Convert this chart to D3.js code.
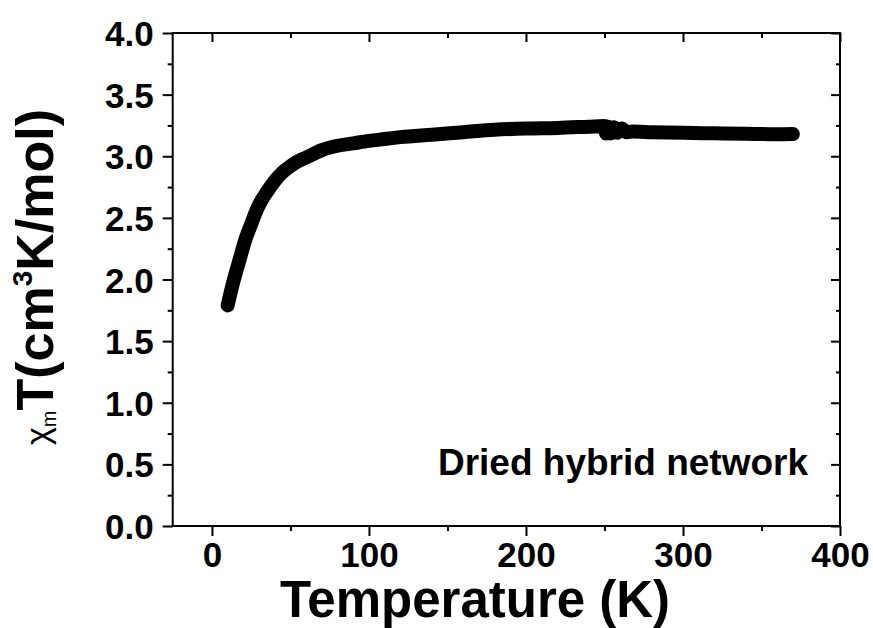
<!DOCTYPE html>
<html><head><meta charset="utf-8">
<script src="https://cdn.jsdelivr.net/npm/d3@7"></script>
<style>body{margin:0;background:#fff}svg{display:block}text{font-family:"Liberation Sans",Arial,sans-serif;fill:#000}</style>
</head><body>
<svg id="c" width="873" height="628"></svg>
<script>
const temperature = [10, 12, 14, 16, 18, 20, 22, 25, 28, 31, 35, 40, 45, 50, 55, 60, 70, 80, 90, 100, 110, 120, 140, 160, 180, 200, 220, 240, 250, 251, 252, 254, 256, 258, 261, 264, 268, 280, 300, 320, 340, 360, 370];
const chiT = [1.79, 1.90, 2.00, 2.09, 2.18, 2.27, 2.35, 2.45, 2.55, 2.63, 2.71, 2.80, 2.87, 2.92, 2.96, 2.99, 3.05, 3.085, 3.105, 3.125, 3.14, 3.155, 3.175, 3.195, 3.215, 3.225, 3.23, 3.24, 3.245, 3.185, 3.24, 3.185, 3.235, 3.19, 3.225, 3.195, 3.2, 3.195, 3.19, 3.186, 3.183, 3.178, 3.18];
const xTicks = [0, 100, 200, 300, 400];
const xMinor = [50, 150, 250, 350];
const yTicks = [0.0, 0.5, 1.0, 1.5, 2.0, 2.5, 3.0, 3.5, 4.0];
const yMinor = [0.25, 0.75, 1.25, 1.75, 2.25, 2.75, 3.25, 3.75];
const xLabel = "Temperature (K)";
const annotation = "Dried hybrid network";

const L = 172.7, R = 840, T = 33, B = 526;
const svg = d3.select("#c");
const x = d3.scaleLinear().domain([-25, 400]).range([L, R]);
const y = d3.scaleLinear().domain([0, 4]).range([B, T]);

// data band
const pts = temperature.map((t, i) => [t, chiT[i]]);
svg.append("path")
  .attr("d", d3.line().x(d => x(d[0])).y(d => y(d[1])).curve(d3.curveMonotoneX)(pts))
  .attr("fill", "none").attr("stroke", "#000").attr("stroke-width", 14)
  .attr("stroke-linecap", "round").attr("stroke-linejoin", "round");

function styleAxis(g) {
  g.select(".domain").remove();
  g.selectAll("line").attr("stroke", "#000").attr("stroke-width", 2);
}
// bottom
const gB = svg.append("g").attr("transform", `translate(0,${B})`)
  .call(d3.axisBottom(x).tickValues(xTicks).tickSize(10).tickPadding(6).tickFormat(d3.format("d")));
styleAxis(gB);
gB.selectAll("text").attr("font-size", 35).attr("font-weight", "bold").attr("dy", "0.71em");
svg.append("g").attr("transform", `translate(0,${B})`)
  .call(d3.axisBottom(x).tickValues(xMinor).tickSize(5).tickFormat("")).call(styleAxis);
// top
svg.append("g").attr("transform", `translate(0,${T})`)
  .call(d3.axisBottom(x).tickValues(xTicks).tickSize(9).tickFormat("")).call(styleAxis);
svg.append("g").attr("transform", `translate(0,${T})`)
  .call(d3.axisBottom(x).tickValues(xMinor).tickSize(5).tickFormat("")).call(styleAxis);
// left
const gL = svg.append("g").attr("transform", `translate(${L},0)`)
  .call(d3.axisLeft(y).tickValues(yTicks).tickSize(10).tickPadding(9).tickFormat(d3.format(".1f")));
styleAxis(gL);
gL.selectAll("text").attr("font-size", 35).attr("font-weight", "bold").attr("dy", "0.36em");
svg.append("g").attr("transform", `translate(${L},0)`)
  .call(d3.axisLeft(y).tickValues(yMinor).tickSize(5).tickFormat("")).call(styleAxis);
// right
svg.append("g").attr("transform", `translate(${R},0)`)
  .call(d3.axisLeft(y).tickValues(yTicks).tickSize(9).tickFormat("")).call(styleAxis);
svg.append("g").attr("transform", `translate(${R},0)`)
  .call(d3.axisLeft(y).tickValues(yMinor).tickSize(4).tickFormat("")).call(styleAxis);

// frame
svg.append("rect").attr("x", L).attr("y", T).attr("width", R - L).attr("height", B - T)
  .attr("fill", "none").attr("stroke", "#000").attr("stroke-width", 2);

// x label
svg.append("text").attr("x", 475).attr("y", 617).attr("text-anchor", "middle")
  .attr("font-size", 51).attr("font-weight", "bold").text(xLabel);

// y label
const yl = svg.append("text").attr("transform", "translate(53,277) rotate(-90)")
  .attr("text-anchor", "middle").attr("font-size", 52).attr("font-weight", "bold");
yl.append("tspan").attr("font-weight", "normal").attr("font-size", 34).attr("dy", -4).text("χ");
yl.append("tspan").attr("font-weight", "normal").attr("font-size", 20).attr("dy", 7).text("m");
yl.append("tspan").attr("dy", -3).text("T(cm");
yl.append("tspan").attr("font-size", 28).attr("dy", -21).text("3");
yl.append("tspan").attr("dy", 21).text("K/mol)");

// annotation
svg.append("text").attr("x", 808).attr("y", 475).attr("text-anchor", "end")
  .attr("font-size", 37).attr("font-weight", "bold").text(annotation);
</script>
</body></html>
